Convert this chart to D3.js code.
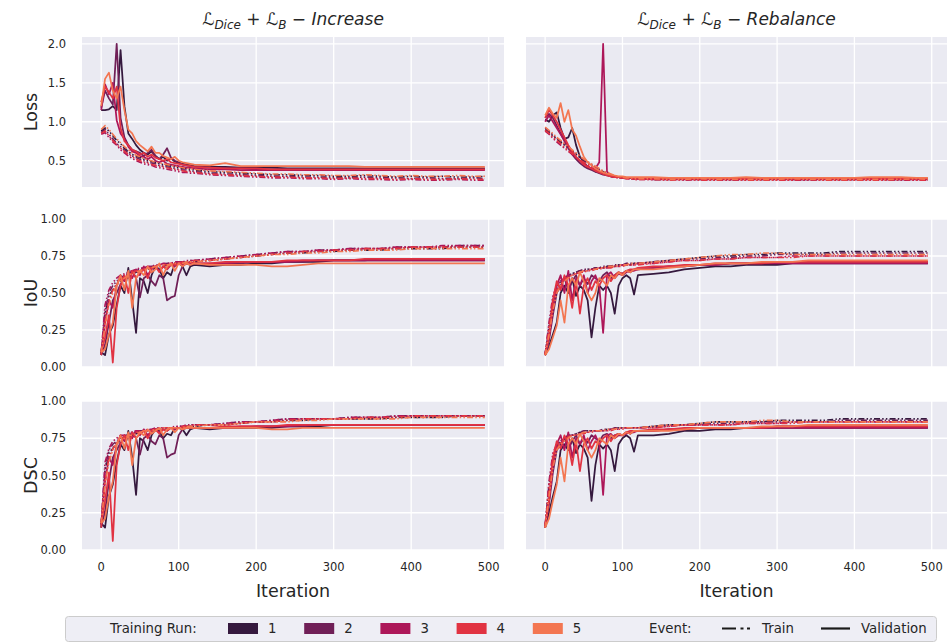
<!DOCTYPE html>
<html>
<head>
<meta charset="utf-8">
<script src="https://cdn.jsdelivr.net/npm/d3@7/dist/d3.min.js"></script>
<style>
  body { margin: 0; background: #fff; }
  text { font-family: "DejaVu Sans", sans-serif; fill: #262626; }
</style>
</head>
<body>
<div id="chart"></div>
<script>
// iteration at which each value was logged
const iterations = [0,5,10,15,20,25,30,35,40,45,50,55,60,65,70,75,80,85,90,95,100,105,110,115,120,
  140,160,180,200,220,240,260,280,300,320,340,360,380,400,420,440,460,480,495];

const runs = ["1", "2", "3", "4", "5"];
const runColors = ["#35193e", "#701f57", "#ad1759", "#e13342", "#f37651"];
const events = ["Train", "Validation"];
const xTicks = [0, 100, 200, 300, 400, 500];
const lossTicks = [0.5, 1.0, 1.5, 2.0];
const scoreTicks = [0, 0.25, 0.5, 0.75, 1.0];

// ---- Increase: Loss
const incLossVal = [
  [1.15,1.15,1.16,1.20,1.15,1.92,1.20,.85,.78,.70,.64,.60,.58,.62,.56,.52,.55,.50,.53,.49,.47,.46,.45,.44,.43, .42,.42,.41,.41,.41,.40,.40,.40,.40,.40,.40,.40,.40,.40,.40,.40,.40,.40,.40],
  [1.18,1.40,1.30,1.22,2.00,1.05,.80,.70,.64,.62,.60,.56,.60,.64,.56,.52,.58,.66,.54,.50,.48,.45,.44,.43,.42, .41,.40,.40,.39,.39,.39,.39,.39,.39,.39,.39,.39,.39,.39,.39,.39,.39,.39,.39],
  [1.15,1.48,1.35,1.50,1.02,.85,.78,.68,.62,.60,.56,.55,.52,.55,.50,.48,.50,.46,.45,.44,.43,.42,.41,.41,.40, .39,.39,.38,.38,.38,.38,.38,.38,.38,.38,.38,.38,.38,.38,.38,.38,.38,.38,.38],
  [1.25,1.45,1.38,1.30,1.45,.92,.75,.70,.64,.62,.58,.60,.55,.58,.54,.52,.50,.52,.48,.47,.46,.45,.44,.43,.42, .41,.40,.40,.40,.39,.39,.39,.39,.39,.39,.39,.39,.39,.39,.39,.39,.39,.39,.39],
  [1.20,1.55,1.63,1.40,1.30,1.45,1.15,.90,.85,.75,.70,.66,.62,.68,.60,.60,.56,.54,.52,.55,.50,.48,.47,.46,.45, .44,.47,.43,.43,.43,.43,.43,.43,.43,.43,.42,.42,.42,.42,.42,.42,.42,.42,.42]
];
const incLossTrn = [
  [.88,.92,.88,.82,.76,.72,.66,.62,.58,.56,.54,.52,.50,.49,.48,.46,.45,.44,.43,.42,.41,.40,.40,.39,.38, .36,.35,.34,.33,.32,.32,.31,.31,.30,.30,.31,.30,.29,.30,.29,.30,.29,.29,.30],
  [.86,.90,.84,.78,.72,.68,.64,.60,.56,.54,.52,.50,.48,.47,.46,.44,.43,.42,.41,.40,.39,.38,.38,.37,.36, .34,.33,.32,.31,.30,.30,.29,.29,.28,.28,.29,.28,.28,.27,.28,.27,.27,.28,.27],
  [.84,.86,.80,.74,.70,.64,.60,.56,.53,.50,.48,.46,.45,.44,.42,.41,.40,.39,.38,.37,.36,.35,.35,.34,.34, .32,.31,.30,.29,.28,.28,.27,.27,.26,.27,.26,.26,.25,.26,.25,.25,.26,.25,.25],
  [.85,.88,.82,.76,.71,.66,.62,.58,.55,.52,.50,.48,.47,.45,.44,.43,.42,.41,.40,.39,.38,.37,.36,.36,.35, .33,.32,.31,.30,.29,.29,.28,.28,.27,.28,.27,.27,.26,.27,.26,.26,.27,.26,.26],
  [.90,.95,.90,.84,.78,.73,.68,.64,.60,.57,.55,.53,.51,.50,.48,.47,.46,.45,.44,.43,.42,.41,.40,.40,.39, .37,.36,.35,.34,.33,.33,.32,.32,.31,.31,.32,.31,.30,.31,.30,.30,.31,.30,.30]
];

// ---- Rebalance: Loss
const rebLossVal = [
  [1.03,1.00,1.08,1.12,.92,.78,.80,.92,.70,.55,.48,.42,.40,.36,.35,.36,.32,.30,.29,.29,.28,.28,.28,.27,.27, .27,.27,.27,.27,.27,.27,.27,.27,.27,.27,.27,.27,.27,.27,.27,.27,.27,.27,.27],
  [1.05,1.10,1.05,.95,.85,.75,.66,.58,.52,.47,.43,.40,.38,.36,.34,.32,.31,.30,.29,.29,.28,.28,.28,.27,.27, .27,.26,.27,.26,.27,.26,.27,.26,.27,.26,.26,.27,.26,.26,.27,.26,.26,.27,.26],
  [1.00,1.08,1.00,.92,.84,.76,.68,.60,.54,.50,.46,.43,.40,.40,.48,2.00,.36,.31,.30,.29,.28,.28,.28,.27,.27, .26,.26,.26,.26,.26,.26,.26,.26,.26,.26,.26,.26,.26,.26,.26,.26,.26,.26,.26],
  [1.05,1.15,1.08,1.00,.90,.80,.70,.62,.55,.50,.45,.42,.40,.37,.35,.33,.31,.30,.29,.29,.28,.28,.28,.27,.27, .27,.27,.27,.27,.27,.27,.27,.27,.27,.27,.27,.27,.27,.27,.27,.27,.27,.27,.27],
  [1.08,1.18,1.10,1.05,1.24,1.00,1.15,.90,.82,.68,.55,.48,.44,.40,.37,.35,.33,.32,.31,.30,.30,.29,.29,.29,.29, .29,.28,.28,.28,.28,.28,.29,.28,.28,.28,.28,.28,.28,.28,.29,.29,.29,.28,.28]
];
const rebLossTrn = [
  [.90,.86,.82,.78,.74,.70,.66,.62,.58,.54,.50,.47,.44,.41,.38,.35,.33,.31,.30,.29,.28,.28,.27,.27,.27, .26,.26,.27,.26,.26,.26,.27,.26,.26,.26,.26,.27,.26,.26,.26,.26,.26,.26,.26],
  [.92,.88,.83,.79,.75,.71,.67,.63,.59,.55,.51,.48,.45,.42,.39,.36,.34,.32,.30,.29,.28,.28,.27,.27,.27, .26,.27,.26,.26,.26,.26,.26,.26,.27,.26,.26,.26,.26,.26,.26,.27,.26,.26,.26],
  [.88,.84,.79,.74,.70,.66,.62,.58,.54,.50,.47,.44,.41,.38,.36,.34,.32,.30,.29,.28,.28,.27,.27,.26,.26, .26,.26,.25,.26,.25,.25,.25,.26,.25,.25,.25,.25,.25,.26,.25,.25,.25,.25,.25],
  [.89,.85,.80,.76,.72,.67,.63,.59,.55,.51,.48,.45,.42,.39,.37,.34,.32,.31,.29,.28,.28,.27,.27,.26,.26, .26,.25,.26,.25,.25,.26,.25,.25,.25,.25,.26,.25,.25,.25,.25,.25,.26,.25,.25],
  [.93,.89,.85,.80,.76,.72,.68,.64,.60,.56,.52,.49,.46,.43,.40,.37,.35,.33,.31,.30,.29,.28,.28,.27,.27, .27,.26,.26,.27,.26,.26,.26,.26,.26,.27,.26,.26,.26,.26,.26,.26,.26,.27,.26]
];

// ---- Increase: IoU
const incIouVal = [
  [.10,.08,.22,.28,.42,.55,.50,.67,.45,.23,.60,.58,.50,.62,.68,.66,.60,.64,.62,.70,.70,.68,.62,.68,.69, .68,.69,.69,.70,.70,.71,.71,.71,.72,.72,.72,.72,.72,.72,.72,.72,.72,.72,.72],
  [.08,.15,.30,.45,.50,.56,.60,.60,.65,.60,.47,.60,.62,.58,.55,.62,.60,.45,.47,.48,.62,.68,.70,.69,.70, .69,.70,.70,.71,.71,.71,.71,.72,.72,.72,.72,.73,.73,.73,.73,.73,.73,.73,.73],
  [.09,.30,.45,.40,.55,.62,.58,.64,.60,.66,.62,.68,.62,.66,.68,.65,.68,.66,.69,.68,.70,.69,.70,.70,.70, .70,.70,.71,.71,.71,.71,.72,.72,.72,.72,.72,.72,.72,.72,.72,.72,.72,.72,.72],
  [.10,.20,.35,.03,.40,.55,.62,.50,.65,.60,.64,.66,.60,.67,.68,.64,.68,.66,.70,.69,.70,.70,.70,.71,.70, .70,.71,.71,.71,.71,.72,.72,.72,.72,.72,.73,.73,.73,.73,.73,.73,.73,.73,.73],
  [.10,.12,.22,.30,.55,.62,.52,.65,.40,.60,.65,.62,.68,.64,.66,.70,.62,.68,.70,.65,.70,.68,.70,.69,.70, .69,.69,.69,.69,.68,.68,.69,.70,.70,.70,.70,.70,.70,.70,.70,.70,.70,.70,.70]
];
const incIouTrn = [
  [.08,.35,.48,.52,.56,.58,.60,.62,.63,.64,.65,.66,.66,.67,.67,.68,.68,.69,.69,.70,.70,.70,.71,.71,.71, .72,.73,.74,.75,.76,.77,.77,.78,.78,.79,.79,.79,.80,.80,.80,.80,.81,.81,.81],
  [.10,.38,.50,.55,.58,.60,.62,.63,.64,.65,.66,.67,.67,.68,.68,.69,.69,.70,.70,.70,.71,.71,.71,.72,.72, .73,.74,.75,.76,.77,.78,.78,.79,.79,.80,.80,.80,.81,.81,.81,.81,.82,.82,.82],
  [.09,.42,.52,.57,.60,.62,.63,.64,.65,.66,.67,.67,.68,.68,.69,.69,.70,.70,.70,.71,.71,.71,.72,.72,.72, .73,.74,.75,.76,.77,.78,.78,.79,.79,.80,.80,.80,.81,.81,.81,.82,.82,.82,.82],
  [.08,.30,.45,.52,.56,.59,.61,.62,.64,.65,.65,.66,.67,.67,.68,.68,.69,.69,.70,.70,.70,.71,.71,.71,.72, .72,.73,.74,.75,.76,.77,.78,.78,.79,.79,.80,.80,.80,.81,.81,.81,.81,.81,.81],
  [.10,.28,.42,.50,.55,.58,.60,.62,.63,.64,.65,.66,.66,.67,.68,.68,.69,.69,.69,.70,.70,.70,.71,.71,.71, .72,.73,.74,.75,.76,.76,.77,.77,.78,.78,.79,.79,.79,.80,.80,.80,.80,.80,.80]
];

// ---- Rebalance: IoU
const rebIouVal = [
  [.08,.14,.22,.30,.50,.55,.50,.60,.48,.55,.52,.45,.20,.40,.55,.52,.55,.50,.36,.55,.60,.62,.60,.49,.62, .63,.64,.66,.67,.68,.68,.69,.69,.69,.70,.70,.70,.70,.70,.70,.70,.70,.70,.70],
  [.08,.18,.35,.50,.55,.60,.52,.58,.62,.55,.60,.56,.62,.60,.58,.62,.64,.60,.62,.64,.63,.65,.64,.66,.66, .67,.68,.68,.69,.69,.70,.70,.70,.71,.71,.71,.71,.71,.71,.71,.71,.71,.71,.71],
  [.08,.20,.40,.55,.62,.50,.65,.45,.60,.55,.62,.50,.58,.62,.55,.23,.62,.64,.60,.63,.62,.64,.65,.65,.66, .67,.68,.68,.69,.69,.70,.70,.70,.70,.70,.70,.70,.70,.70,.70,.70,.70,.70,.70],
  [.09,.20,.45,.58,.52,.62,.55,.40,.58,.36,.55,.60,.52,.58,.55,.60,.62,.58,.62,.64,.63,.65,.66,.66,.67, .68,.68,.69,.69,.70,.70,.70,.70,.71,.71,.71,.71,.71,.71,.71,.71,.71,.71,.71],
  [.08,.12,.20,.28,.45,.30,.55,.60,.55,.64,.58,.50,.45,.50,.60,.58,.55,.62,.60,.64,.62,.65,.64,.66,.66, .66,.67,.68,.69,.70,.70,.70,.71,.71,.71,.72,.72,.72,.72,.72,.72,.72,.72,.72]
];
const rebIouTrn = [
  [.08,.25,.42,.52,.57,.60,.62,.63,.64,.65,.65,.66,.66,.67,.67,.67,.68,.68,.68,.69,.69,.69,.69,.70,.70, .71,.72,.73,.74,.75,.75,.76,.76,.77,.77,.77,.77,.78,.78,.78,.78,.78,.78,.78],
  [.09,.28,.45,.54,.58,.60,.62,.63,.64,.65,.66,.66,.66,.67,.67,.68,.68,.68,.69,.69,.69,.70,.70,.70,.70, .71,.72,.73,.73,.74,.74,.75,.75,.76,.76,.76,.76,.77,.77,.77,.77,.77,.77,.77],
  [.08,.30,.48,.55,.58,.60,.61,.62,.63,.64,.65,.65,.66,.66,.67,.67,.67,.68,.68,.68,.69,.69,.69,.69,.70, .70,.71,.72,.72,.73,.73,.74,.74,.74,.75,.75,.75,.75,.75,.75,.75,.75,.75,.75],
  [.08,.26,.44,.52,.56,.59,.61,.62,.63,.64,.64,.65,.65,.66,.66,.67,.67,.67,.68,.68,.68,.69,.69,.69,.69, .70,.71,.72,.72,.73,.73,.74,.74,.74,.74,.75,.75,.75,.75,.75,.75,.75,.75,.75],
  [.08,.22,.38,.50,.55,.58,.60,.62,.63,.64,.65,.65,.66,.66,.67,.67,.68,.68,.68,.69,.69,.69,.70,.70,.70, .71,.72,.73,.74,.75,.76,.76,.77,.77,.76,.76,.76,.76,.76,.76,.76,.76,.76,.76]
];

// ---- Increase: DSC
const incDscVal = [
  [.18,.15,.36,.44,.59,.71,.67,.80,.62,.37,.75,.73,.67,.77,.81,.80,.75,.78,.77,.82,.82,.81,.77,.81,.82, .81,.82,.82,.82,.82,.83,.83,.83,.84,.84,.84,.84,.84,.84,.84,.84,.84,.84,.84],
  [.15,.26,.46,.62,.67,.72,.75,.75,.79,.75,.64,.75,.77,.73,.71,.77,.75,.62,.64,.65,.77,.81,.82,.82,.82, .82,.82,.82,.83,.83,.83,.83,.84,.84,.84,.84,.84,.84,.84,.84,.84,.84,.84,.84],
  [.17,.46,.62,.57,.71,.77,.73,.78,.75,.80,.77,.81,.77,.80,.81,.79,.81,.80,.82,.81,.82,.82,.82,.82,.82, .82,.82,.83,.83,.83,.83,.84,.84,.84,.84,.84,.84,.84,.84,.84,.84,.84,.84,.84],
  [.18,.33,.52,.06,.57,.71,.77,.67,.79,.75,.78,.80,.75,.80,.81,.78,.81,.80,.82,.82,.82,.82,.82,.83,.82, .82,.83,.83,.83,.83,.84,.84,.84,.84,.84,.84,.84,.84,.84,.84,.84,.84,.84,.84],
  [.18,.21,.36,.46,.71,.77,.68,.79,.57,.75,.79,.77,.81,.78,.80,.82,.77,.81,.82,.79,.82,.81,.82,.82,.82, .82,.82,.82,.82,.81,.81,.82,.82,.82,.82,.82,.82,.82,.82,.82,.82,.82,.82,.82]
];
const incDscTrn = [
  [.15,.52,.65,.68,.72,.73,.75,.77,.77,.78,.79,.80,.80,.80,.80,.81,.81,.82,.82,.82,.82,.82,.83,.83,.83, .84,.84,.85,.86,.86,.87,.87,.88,.88,.88,.88,.88,.89,.89,.89,.89,.90,.90,.90],
  [.18,.55,.67,.71,.73,.75,.77,.77,.78,.79,.80,.80,.80,.81,.81,.82,.82,.82,.82,.82,.83,.83,.83,.84,.84, .84,.85,.86,.86,.87,.88,.88,.88,.88,.89,.89,.89,.90,.90,.90,.90,.90,.90,.90],
  [.17,.59,.68,.73,.75,.77,.77,.78,.79,.80,.80,.80,.81,.81,.82,.82,.82,.82,.82,.83,.83,.83,.84,.84,.84, .84,.85,.86,.86,.87,.88,.88,.88,.88,.89,.89,.89,.90,.90,.90,.90,.90,.90,.90],
  [.15,.46,.62,.68,.72,.74,.76,.77,.78,.79,.79,.80,.80,.80,.81,.81,.82,.82,.82,.82,.82,.83,.83,.83,.84, .84,.84,.85,.86,.86,.87,.88,.88,.88,.88,.89,.89,.89,.90,.90,.90,.90,.90,.90],
  [.18,.44,.59,.67,.71,.73,.75,.77,.77,.78,.79,.80,.80,.80,.81,.81,.82,.82,.82,.82,.82,.82,.83,.83,.83, .84,.84,.85,.86,.86,.86,.87,.87,.88,.88,.88,.88,.88,.89,.89,.89,.89,.89,.89]
];

// ---- Rebalance: DSC
const rebDscVal = [
  [.15,.25,.36,.46,.67,.71,.67,.75,.65,.71,.68,.62,.33,.57,.71,.68,.71,.67,.53,.71,.75,.77,.75,.66,.77, .77,.78,.80,.80,.81,.81,.82,.82,.82,.82,.82,.82,.82,.82,.82,.82,.82,.82,.82],
  [.15,.31,.52,.67,.71,.75,.68,.73,.77,.71,.75,.72,.77,.75,.73,.77,.78,.75,.77,.78,.77,.79,.78,.80,.80, .80,.81,.81,.82,.82,.82,.82,.82,.83,.83,.83,.83,.83,.83,.83,.83,.83,.83,.83],
  [.15,.33,.57,.71,.77,.67,.79,.62,.75,.71,.77,.67,.73,.77,.71,.37,.77,.78,.75,.77,.77,.78,.79,.79,.80, .80,.81,.81,.82,.82,.82,.82,.82,.82,.82,.82,.82,.82,.82,.82,.82,.82,.82,.82],
  [.17,.33,.62,.73,.68,.77,.71,.57,.73,.53,.71,.75,.68,.73,.71,.75,.77,.73,.77,.78,.77,.79,.80,.80,.80, .81,.81,.82,.82,.82,.82,.82,.82,.83,.83,.83,.83,.83,.83,.83,.83,.83,.83,.83],
  [.15,.21,.33,.44,.62,.46,.71,.75,.71,.78,.73,.67,.62,.67,.75,.73,.71,.77,.75,.78,.77,.79,.78,.80,.80, .80,.80,.81,.82,.82,.82,.82,.83,.83,.83,.84,.84,.84,.84,.84,.84,.84,.84,.84]
];
const rebDscTrn = [
  [.15,.40,.59,.68,.73,.75,.77,.77,.78,.79,.79,.80,.80,.80,.80,.80,.81,.81,.81,.82,.82,.82,.82,.82,.82, .83,.84,.84,.85,.86,.86,.86,.86,.87,.87,.87,.87,.88,.88,.88,.88,.88,.88,.88],
  [.17,.44,.62,.70,.73,.75,.77,.77,.78,.79,.80,.80,.80,.80,.80,.81,.81,.81,.82,.82,.82,.82,.82,.82,.82, .83,.84,.84,.84,.85,.85,.86,.86,.86,.86,.86,.86,.87,.87,.87,.87,.87,.87,.87],
  [.15,.46,.65,.71,.73,.75,.76,.77,.77,.78,.79,.79,.80,.80,.80,.80,.80,.81,.81,.81,.82,.82,.82,.82,.82, .82,.83,.84,.84,.84,.84,.85,.85,.85,.86,.86,.86,.86,.86,.86,.86,.86,.86,.86],
  [.15,.41,.61,.68,.72,.74,.76,.77,.77,.78,.78,.79,.79,.80,.80,.80,.80,.80,.81,.81,.81,.82,.82,.82,.82, .82,.83,.84,.84,.84,.84,.85,.85,.85,.85,.86,.86,.86,.86,.86,.86,.86,.86,.86],
  [.15,.36,.55,.67,.71,.73,.75,.77,.77,.78,.79,.79,.80,.80,.80,.80,.81,.81,.81,.82,.82,.82,.82,.82,.82, .83,.84,.84,.85,.86,.86,.86,.87,.87,.86,.86,.86,.86,.86,.86,.86,.86,.86,.86]
];

// ---------- layout
const W = 951, H = 643;
const cols = [[82, 504], [526, 947]];
const rows = [[37, 187], [219, 367], [401, 550]];
const colTitles = ["Increase", "Rebalance"];
const rowLabels = ["Loss", "IoU", "DSC"];

const panels = [
  { row: 0, col: 0, val: incLossVal, trn: incLossTrn },
  { row: 0, col: 1, val: rebLossVal, trn: rebLossTrn },
  { row: 1, col: 0, val: incIouVal, trn: incIouTrn },
  { row: 1, col: 1, val: rebIouVal, trn: rebIouTrn },
  { row: 2, col: 0, val: incDscVal, trn: incDscTrn },
  { row: 2, col: 1, val: rebDscVal, trn: rebDscTrn }
];

const trainDash = "6,2.2,1.5,2.2,1.5,2.2";

const svg = d3.select("#chart").append("svg")
  .attr("width", W).attr("height", H);

// x domain like matplotlib: data extent plus 5% margins
const xExt = d3.extent(iterations);
const xPad = (xExt[1] - xExt[0]) * 0.05;

// loss y domain shared across the row
const lossAll = [incLossVal, incLossTrn, rebLossVal, rebLossTrn].flat(2);
const lExt = d3.extent(lossAll);
const lPad = (lExt[1] - lExt[0]) * 0.05;
const yDomains = [[lExt[0] - lPad, lExt[1] + lPad], [0, 1], [0, 1]];

panels.forEach(function (p) {
  const [x0, x1] = cols[p.col];
  const [y0, y1] = rows[p.row];
  const x = d3.scaleLinear().domain([xExt[0] - xPad, xExt[1] + xPad]).range([x0, x1]);
  const y = d3.scaleLinear().domain(yDomains[p.row]).range([y1, y0]);
  const yTicks = p.row === 0 ? lossTicks : scoreTicks;

  const g = svg.append("g");
  g.append("rect")
    .attr("x", x0).attr("y", y0)
    .attr("width", x1 - x0).attr("height", y1 - y0)
    .attr("fill", "#eaeaf2");

  // grid
  g.append("g").selectAll("line").data(xTicks).enter().append("line")
    .attr("x1", d => x(d)).attr("x2", d => x(d))
    .attr("y1", y0).attr("y2", y1)
    .attr("stroke", "#fff").attr("stroke-width", 1.3);
  g.append("g").selectAll("line").data(yTicks).enter().append("line")
    .attr("x1", x0).attr("x2", x1)
    .attr("y1", d => y(d)).attr("y2", d => y(d))
    .attr("stroke", "#fff").attr("stroke-width", 1.3);

  // y tick labels only on the left column
  if (p.col === 0) {
    const fmt = p.row === 0 ? d3.format(".1f") : d3.format(".2f");
    g.append("g").selectAll("text").data(yTicks).enter().append("text")
      .attr("x", 66).attr("y", d => y(d))
      .attr("dy", "0.35em")
      .attr("text-anchor", "end")
      .style("font-size", "11.5px")
      .text(fmt);
  }
  // x tick labels only on the bottom row
  if (p.row === 2) {
    g.append("g").selectAll("text").data(xTicks).enter().append("text")
      .attr("x", d => x(d)).attr("y", y1 + 21)
      .attr("text-anchor", "middle")
      .style("font-size", "11.5px")
      .text(d => d);
    svg.append("text")
      .attr("x", (x0 + x1) / 2).attr("y", 597)
      .attr("text-anchor", "middle")
      .style("font-size", "17.5px")
      .text("Iteration");
  }

  const line = d3.line()
    .x((d, i) => x(iterations[i]))
    .y(d => y(d));

  // seaborn draws hue by hue, train then validation
  runs.forEach(function (r, k) {
    g.append("path")
      .attr("d", line(p.trn[k]))
      .attr("fill", "none")
      .attr("stroke", runColors[k])
      .attr("stroke-width", 1.6)
      .attr("stroke-dasharray", trainDash);
    g.append("path")
      .attr("d", line(p.val[k]))
      .attr("fill", "none")
      .attr("stroke", runColors[k])
      .attr("stroke-width", 1.75)
      .attr("stroke-linejoin", "round");
  });
});

// row labels
rowLabels.forEach(function (lab, i) {
  const cy = (rows[i][0] + rows[i][1]) / 2;
  svg.append("text")
    .attr("transform", "translate(31," + cy + ") rotate(-90)")
    .attr("text-anchor", "middle")
    .attr("dy", "0.35em")
    .style("font-size", "17.5px")
    .text(lab);
});

// column titles  (L_Dice + L_B - word)
colTitles.forEach(function (word, i) {
  const cx = (cols[i][0] + cols[i][1]) / 2;
  const t = svg.append("text")
    .attr("x", cx).attr("y", 25)
    .attr("text-anchor", "middle")
    .style("font-size", "17px");
  t.append("tspan").text("\u2112");
  t.append("tspan").attr("dy", 4).style("font-size", "12px").style("font-style", "italic").text("Dice");
  t.append("tspan").attr("dy", -4).text(" + \u2112");
  t.append("tspan").attr("dy", 4).style("font-size", "12px").style("font-style", "italic").text("B");
  t.append("tspan").attr("dy", -4).text(" \u2212 ");
  t.append("tspan").style("font-style", "italic").text(word);
});

// ---------- legend
const leg = svg.append("g");
leg.append("rect")
  .attr("x", 65.5).attr("y", 616.5)
  .attr("width", 871).attr("height", 25)
  .attr("rx", 3)
  .attr("fill", "#eeeef5")
  .attr("stroke", "#cccccc");

const legY = 628.5;
const legFont = "13.3px";
leg.append("text").attr("x", 110).attr("y", legY).attr("dy", "0.35em")
  .style("font-size", legFont).text("Training Run:");

runs.forEach(function (r, k) {
  const px = 228 + k * 76.2;
  leg.append("rect")
    .attr("x", px).attr("y", legY - 5.5)
    .attr("width", 30).attr("height", 11)
    .attr("fill", runColors[k]);
  leg.append("text").attr("x", px + 40).attr("y", legY).attr("dy", "0.35em")
    .style("font-size", legFont).text(r);
});

leg.append("text").attr("x", 649).attr("y", legY).attr("dy", "0.35em")
  .style("font-size", legFont).text("Event:");

events.forEach(function (ev, k) {
  const lx = 722 + k * 99;
  leg.append("line")
    .attr("x1", lx).attr("x2", lx + 29)
    .attr("y1", legY).attr("y2", legY)
    .attr("stroke", "#1a1a1a")
    .attr("stroke-width", 2.2)
    .attr("stroke-dasharray", k === 0 ? "14,4.5,3,3.5,3,4" : null);
  leg.append("text").attr("x", lx + 40).attr("y", legY).attr("dy", "0.35em")
    .style("font-size", legFont).text(ev);
});
</script>
</body>
</html>
